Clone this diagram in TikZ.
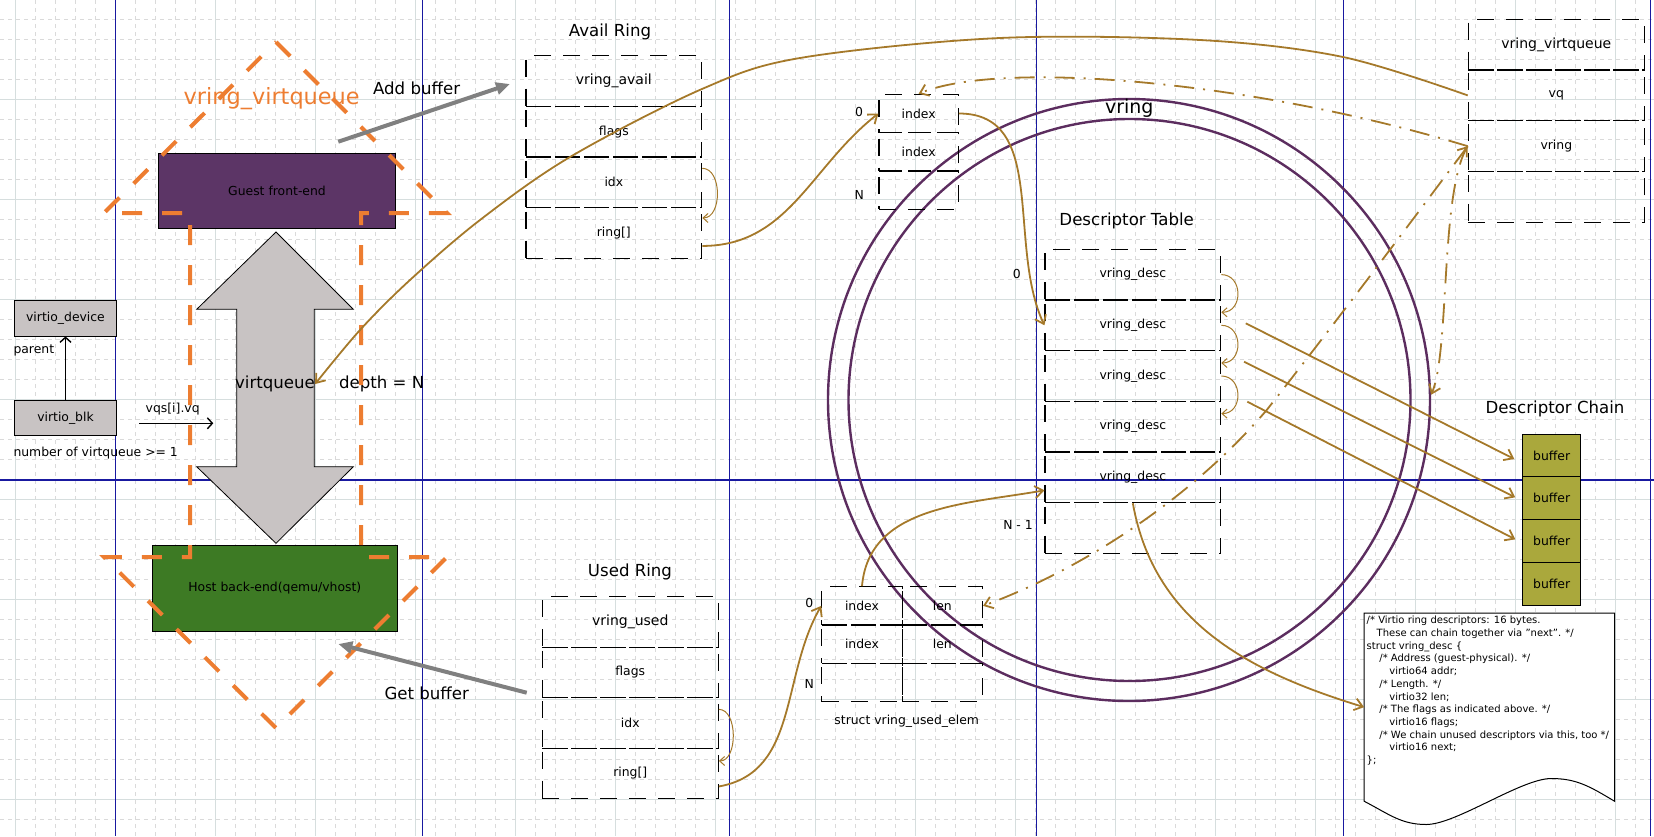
\documentclass[tikz,border=0pt]{standalone}
\usepackage{fontspec}
\setmainfont{DejaVu Sans}
\usetikzlibrary{calc,arrows.meta}

\definecolor{guestc}{RGB}{92,53,102}
\definecolor{hostc}{RGB}{61,122,36}
\definecolor{greyfill}{RGB}{200,195,195}
\definecolor{bufc}{RGB}{170,168,60}
\definecolor{linkc}{RGB}{165,121,42}
\definecolor{orangec}{RGB}{237,125,49}
\definecolor{ringc}{RGB}{92,45,95}
\definecolor{pagec}{RGB}{25,25,160}
\definecolor{gridmaj}{RGB}{214,222,222}
\definecolor{gridmin}{RGB}{218,218,218}
\definecolor{arrowgrey}{RGB}{128,128,128}

\newcommand{\txtsmall}{\fontsize{12.4}{14}\selectfont}
\newcommand{\txthead}{\fontsize{14}{16}\selectfont}
\newcommand{\txttitle}{\fontsize{16.6}{19}\selectfont}
\newcommand{\txtring}{\fontsize{19}{22}\selectfont}
\newcommand{\txtbig}{\fontsize{22.4}{26}\selectfont}
\newcommand{\txtnote}{\fontsize{10}{12.7}\selectfont}

\tikzset{
    gridminor/.style={draw=gridmin, line width=0.6pt, dash pattern=on 4pt off 4pt},
    gridmajor/.style={draw=gridmaj, line width=0.9pt},
    pageline/.style={draw=pagec, line width=1.1pt},
    fillbox/.style={draw=black, line width=0.9pt, inner sep=0pt, font=\txtsmall},
    rowbox/.style={draw=black, line width=1.2pt, dash pattern=on 17pt off 12pt, inner sep=0pt, font=\txtsmall, minimum width=175.7pt, minimum height=50.65pt},
    cellbox/.style={rowbox, minimum width=80.3pt, minimum height=38.33pt},
    label/.style={inner sep=0pt, font=\txtsmall},
    heading/.style={inner sep=0pt, font=\txttitle},
    ring/.style={circle, draw=ringc, line width=2.4pt, inner sep=0pt},
    link/.style={draw=linkc, line width=1.8pt, -{Straight Barb[length=8pt,width=12pt]}},
    hop/.style={draw=linkc, line width=1pt, -{Straight Barb[length=5pt,width=9pt]}},
    reflink/.style={link, dash pattern=on 20pt off 9pt on 2pt off 9pt},
    pusharrow/.style={draw=arrowgrey, line width=4pt, -{Triangle[length=14pt,width=12pt]}},
    plainarrow/.style={draw=black, line width=1.4pt, -{Straight Barb[length=5pt,width=11pt]}},
    vqoutline/.style={draw=orangec, line width=4pt, dash pattern=on 20pt off 20pt}
}

\begin{document}
\begin{tikzpicture}[x=1pt,y=1pt]

            \useasboundingbox (0,0) rectangle (1654,-836);

            \foreach \gx in {0,...,82} {\draw[gridminor] ({15.7+20*\gx},0) -- ({15.7+20*\gx},-836);}
            \foreach \gy in {0,...,41} {\draw[gridminor] (0,{-19-20*\gy}) -- (1654,{-19-20*\gy});}
            \foreach \gx in {0,...,16} {\draw[gridmajor] ({15.7+100*\gx},0) -- ({15.7+100*\gx},-836);}
            \foreach \gy in {0,...,7} {\draw[gridmajor] (0,{-99-100*\gy}) -- (1654,{-99-100*\gy});}
            \foreach \bx in {115.7,422.3,729.3,1036.3,1343.3,1650.3} {\draw[pageline] (\bx,0) -- (\bx,-836);}
            \draw[pageline] (0,-480) -- (1654,-480);

            \node (ringout) [ring, minimum size=602pt] at (1129,-400) {};
            \node (ringin) [ring, minimum size=562pt] at (1129.5,-400) {};
            \node (vringlbl) [inner sep=0pt, font=\txtring] at (1129.3,-108.3) {vring};

            \node (dev) [fillbox, fill=greyfill, minimum width=102.4pt, minimum height=35.3pt] at (65.5,-318.3) {virtio\_device};
            \node (blk) [fillbox, fill=greyfill, minimum width=102.4pt, minimum height=35.7pt] at (65.5,-417.8) {virtio\_blk};
            \node (parentlbl) [label, anchor=west] at (13.3,-350) {parent};
            \node (numlbl) [label, anchor=west] at (13.3,-453.3) {number of virtqueue >= 1};
            \node (vqslbl) [label] at (172.7,-409.3) {vqs[i].vq};
            \coordinate (vqsfrom) at (139,-423.3);
            \coordinate (vqsto) at (213.3,-423.3);
            \draw[plainarrow] (blk) -- (dev);
            \draw[plainarrow] (vqsfrom) -- (vqsto);

            \node (guest) [fillbox, fill=guestc, minimum width=237.4pt, minimum height=75.4pt] at (277,-191) {Guest front-end};
            \node (host) [fillbox, fill=hostc, minimum width=245pt, minimum height=85.3pt] at (274.8,-588.4) {Host back-end(qemu/vhost)};

            \draw[draw=black, fill=greyfill, line width=0.8pt] (276,-232) -- (353.3,-309.3) -- (314.3,-309.3) -- (314.3,-466.7) -- (353.3,-466.7)
                -- (276,-543.3) -- (196.7,-466.7) -- (236.7,-466.7) -- (236.7,-309.3) -- (196.7,-309.3) -- cycle;
            \node (vqlabel) [inner sep=0pt, font=\txttitle] at (275,-384) {virtqueue};
            \node (depthlbl) [inner sep=0pt, font=\txttitle] at (381.7,-384) {depth = N};

            \draw[vqoutline] (276,-42) -- (447,-213) -- (361,-213) -- (361,-557) -- (447,-557) -- (276,-728)
                -- (104,-557) -- (190,-557) -- (190,-213) -- (104,-213) -- cycle;
            \node (vvqlbl) [inner sep=0pt, font=\txtbig, text=orangec] at (271.7,-98.3) {vring\_virtqueue};

            \node (addlbl) [heading] at (416.6,-88.3) {Add buffer};
            \node (getlbl) [heading] at (426.7,-693.3) {Get buffer};
            \coordinate (addfrom) at (338.3,-141.7);
            \coordinate (addto) at (510,-84);
            \coordinate (getfrom) at (526.7,-692.7);
            \coordinate (getto) at (338.3,-644);
            \draw[pusharrow] (addfrom) -- (addto);
            \draw[pusharrow] (getfrom) -- (getto);

            \node (availtitle) [heading] at (610,-31.7) {Avail Ring};
            \node (av1) [rowbox, font=\txthead] at (613.85,-81) {vring\_avail};
            \node (av2) [rowbox] at (613.85,-131.65) {flags};
            \node (av3) [rowbox] at (613.85,-182.3) {idx};
            \node (av4) [rowbox] at (613.85,-232.95) {ring[]};

            \node (usedtitle) [heading] at (630,-572.3) {Used Ring};
            \node (us1) [rowbox, font=\txthead, minimum width=176pt, minimum height=50.5pt] at (630.3,-621.95) {vring\_used};
            \node (us2) [rowbox, minimum width=176pt, minimum height=50.5pt] at (630.3,-672.45) {flags};
            \node (us3) [rowbox, minimum width=176pt, minimum height=50.5pt] at (630.3,-722.95) {idx};
            \node (us4) [rowbox, minimum width=176pt, minimum height=50.5pt] at (630.3,-773.45) {ring[]};

            \node (ix1) [cellbox, minimum width=79.3pt] at (918.65,-113.5) {index};
            \node (ix2) [cellbox, minimum width=79.3pt] at (918.65,-151.8) {index};
            \node (ix3) [cellbox, minimum width=79.3pt] at (918.65,-190.1) {};
            \node (ixfirst) [label] at (859,-112.3) {0};
            \node (ixlast) [label] at (859.3,-194.7) {N};

            \node (desctitle) [heading] at (1126.7,-221) {Descriptor Table};
            \node (dt1) [rowbox] at (1132.85,-274.6) {vring\_desc};
            \node (dt2) [rowbox] at (1132.85,-325.3) {vring\_desc};
            \node (dt3) [rowbox] at (1132.85,-376) {vring\_desc};
            \node (dt4) [rowbox] at (1132.85,-426.6) {vring\_desc};
            \node (dt5) [rowbox] at (1132.85,-477.3) {vring\_desc};
            \node (dt6) [rowbox] at (1132.85,-528) {};
            \node (dtfirst) [label] at (1016.7,-274) {0};
            \node (dtlast) [label] at (1018,-525) {N - 1};

            \node (ue1) [cellbox] at (862,-605.85) {index};
            \node (ue2) [cellbox] at (942.3,-605.85) {len};
            \node (ue3) [cellbox] at (862,-644.2) {index};
            \node (ue4) [cellbox] at (942.3,-644.2) {len};
            \node (ue5) [cellbox] at (862,-682.5) {};
            \node (ue6) [cellbox] at (942.3,-682.5) {};
            \node (uefirst) [label] at (809.3,-602.7) {0};
            \node (uelast) [label] at (809.3,-684.3) {N};
            \node (uelbl) [label] at (906.7,-721.7) {struct vring\_used\_elem};

            \node (vv1) [rowbox, font=\txthead, minimum width=176pt, minimum height=50.75pt] at (1556.3,-44.7) {vring\_virtqueue};
            \node (vv2) [rowbox, minimum width=176pt, minimum height=50.75pt] at (1556.3,-95.4) {vq};
            \node (vv3) [rowbox, minimum width=176pt, minimum height=50.75pt] at (1556.3,-146.2) {vring};
            \node (vv4) [rowbox, minimum width=176pt, minimum height=50.75pt] at (1556.3,-196.9) {};

            \node (chaintitle) [heading] at (1555,-409.3) {Descriptor Chain};
            \node (bf1) [fillbox, fill=bufc, minimum width=58pt, minimum height=42.75pt] at (1551.7,-455.4) {buffer};
            \node (bf2) [fillbox, fill=bufc, minimum width=58pt, minimum height=42.75pt] at (1551.7,-498.1) {buffer};
            \node (bf3) [fillbox, fill=bufc, minimum width=58pt, minimum height=42.75pt] at (1551.7,-540.9) {buffer};
            \node (bf4) [fillbox, fill=bufc, minimum width=58pt, minimum height=42.75pt] at (1551.7,-583.6) {buffer};

            \node (note) [minimum width=250pt, minimum height=187.7pt, inner sep=0pt] at (1489.3,-707.15) {};
            \draw[fill=white, line width=1pt] (note.north west) -- (note.north east) -- (note.south east)
                .. controls +(-25,15) and +(25,0) .. ++(-63.3,22.7)
                .. controls +(-30,0) and +(30,0) .. ++(-125,-46)
                .. controls +(-25,0) and +(25,-13) .. (note.south west) -- cycle;
            \node (notetext) [anchor=north west, align=left, inner sep=0pt, font=\txtnote] at (1366.5,-616) {/* Virtio ring descriptors: 16 bytes.\\
\hspace*{10pt}These can chain together via "next". */\\
struct vring\_desc \{\\
\hspace*{12.7pt}/* Address (guest-physical). */\\
\hspace*{22.7pt}virtio64 addr;\\
\hspace*{12.7pt}/* Length. */\\
\hspace*{22.7pt}virtio32 len;\\
\hspace*{12.7pt}/* The flags as indicated above. */\\
\hspace*{22.7pt}virtio16 flags;\\
\hspace*{12.7pt}/* We chain unused descriptors via this, too */\\
\hspace*{22.7pt}virtio16 next;\\
\};};

            \draw[link] plot[smooth, tension=0.55] coordinates {(vv2.west) (1343,-57) (1200,-40) (1000,-38) (800,-58) (702,-89) (570,-157) (480,-220) (410,-280) (360,-330) (vqlabel.east)};

            \draw[hop] ($(av3.east)+(0,14)$) .. controls +(20,0) and +(20,0) .. ($(av4.east)+(0,15)$);
            \draw[link] ($(av4.east)+(0,-13)$) to[out=0,in=218] (ix1.west);
            \draw[hop] ($(us3.east)+(0,13.6)$) .. controls +(19,0) and +(19,0) .. ($(us4.east)+(0,12.5)$);
            \draw[link] ($(us4.east)+(0,-13)$) to[out=10,in=240] (ue1.west);

            \draw[link] (ix1.east) to[out=0,in=115] (dt2.west);
            \draw[hop] (dt1.east) .. controls +(22,0) and +(22,0) .. ($(dt2.east)+(0,13)$);
            \draw[hop] (dt2.east) .. controls +(22,0) and +(22,0) .. ($(dt3.east)+(0,13)$);
            \draw[hop] (dt3.east) .. controls +(22,0) and +(22,0) .. ($(dt4.east)+(0,13)$);

            \draw[link] ($(dt2.east)+(24.5,2)$) -- ($(bf1.west)+(-8,-3.6)$);
            \draw[link] ($(dt3.east)+(22.8,14.3)$) -- ($(bf2.west)+(-7,0.8)$);
            \draw[link] ($(dt4.east)+(26,24.9)$) -- ($(bf3.west)+(-7,1.6)$);

            \draw[link] (ue1.north) to[out=85,in=190] ($(dt5.west)+(0,-13)$);
            \draw[link] (dt5.south) to[out=-80,in=163] (note.west);

            \draw[reflink] (vv3.west) .. controls (1250,-80) and (1000,-60) .. (ix1.north);
            \draw[reflink, {Straight Barb[length=8pt,width=12pt]}-{Straight Barb[length=8pt,width=12pt]}] (vv3.west) .. controls (1420,-210) and (1330,-330) .. (1266.7,-410)
                .. controls (1190,-500) and (1080,-570) .. (ue2.east);
            \draw[reflink] (vv3.west) .. controls (1440,-190) and (1450,-350) .. (ringout.1);

        \end{tikzpicture}
\end{document}
